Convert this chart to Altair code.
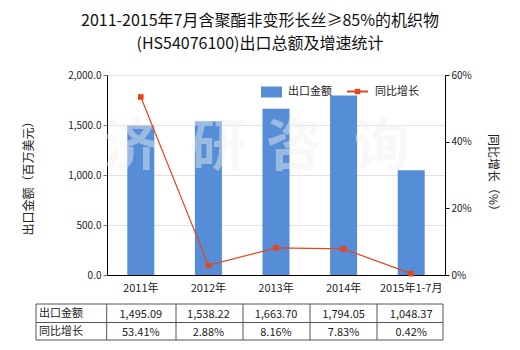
import altair as alt
import pandas as pd

years = ["2011年", "2012年", "2013年", "2014年", "2015年1-7月"]
amounts = [1495.09, 1538.22, 1663.70, 1794.05, 1048.37]
growth = [53.41, 2.88, 8.16, 7.83, 0.42]
amount_labels = ["1,495.09", "1,538.22", "1,663.70", "1,794.05", "1,048.37"]
growth_labels = ["53.41%", "2.88%", "8.16%", "7.83%", "0.42%"]

title_lines = ["2011-2015年7月含聚酯非变形长丝≥85%的机织物", "(HS54076100)出口总额及增速统计"]
watermark_chars = ["济", "研", "咨", "询"]

FONT = "Noto Sans CJK SC"
BLUE = "#558ed6"
RED = "#e2461c"

df = pd.DataFrame({
    "year": years,
    "amount": amounts,
    "growth": [g / 100 for g in growth],
    "amt_lbl": amount_labels,
    "gr_lbl": growth_labels,
})

W, H = 338, 200

xenc = alt.X("year:N", sort=years,
             scale=alt.Scale(paddingInner=0.6, paddingOuter=0.3),
             axis=alt.Axis(title=None, labelAngle=0, labelFont=FONT, labelFontSize=11,
                           labelColor="#222", ticks=False, domainColor="#000",
                           labelPadding=7))

bars = alt.Chart(df).mark_bar(color=BLUE).encode(
    x=xenc,
    y=alt.Y("amount:Q", scale=alt.Scale(domain=[0, 2000]),
            axis=alt.Axis(title="出口金额（百万美元）", format=",.1f", values=[0, 500, 1000, 1500, 2000],
                          labelFont=FONT, labelFontSize=10, labelColor="#222",
                          gridColor="#e2e2e2", domainColor="#000", tickColor="#777", tickSize=4,
                          titleFont=FONT, titleFontSize=12, titleFontWeight="normal", titleColor="#222",
                          titleAngle=-90, titleX=-79, titleY=100, titleAlign="center",
                          titleBaseline="middle")),
)

water = alt.Chart(pd.DataFrame({"t": watermark_chars, "px": [24, 111, 187, 275]})).mark_text(
    font=FONT, fontSize=56, fontWeight="bold", color="#f0f0f0", opacity=0.45,
    align="center", baseline="middle"
).encode(text="t:N", x=alt.X("px:Q", scale=None), y=alt.value(73))

line = alt.Chart(df).mark_line(color=RED, strokeWidth=1.2, point=alt.OverlayMarkDef(
    shape="square", size=32, color=RED, filled=True)).encode(
    x=alt.X("year:N", sort=years),
    y=alt.Y("growth:Q", scale=alt.Scale(domain=[0, 0.6]),
            axis=alt.Axis(title="同比增长（%）", format=".0%", values=[0, 0.2, 0.4, 0.6], orient="right",
                          grid=False, labelFont=FONT, labelFontSize=10, labelColor="#222",
                          domainColor="#000", tickColor="#000", tickSize=4,
                          titleFont=FONT, titleFontSize=12, titleFontWeight="normal", titleColor="#222",
                          titleAngle=90, titleX=47, titleY=100, titleAlign="center",
                          titleBaseline="middle")),
)

# table text
t_amt = alt.Chart(df).mark_text(font=FONT, fontSize=11, color="#222", baseline="middle").encode(
    x=alt.X("year:N", sort=years), y=alt.value(240), text="amt_lbl:N")
t_gr = alt.Chart(df).mark_text(font=FONT, fontSize=11, color="#222", baseline="middle").encode(
    x=alt.X("year:N", sort=years), y=alt.value(258), text="gr_lbl:N")

row_names = pd.DataFrame({"name": ["出口金额", "同比增长"], "py": [239, 257]})
t_rows = alt.Chart(row_names).mark_text(font=FONT, fontSize=11, color="#222", align="left",
                                        baseline="middle").encode(
    x=alt.value(-68), y=alt.Y("py:Q", scale=None), text="name:N")

# table grid (decoration)
grid_x = [-71, -0.3, 69, 136, 203, 270, 336]
grid_y = [229, 247.5, 265]
segs = []
for gx in grid_x:
    segs.append({"x": gx, "x2": gx, "y": grid_y[0], "y2": grid_y[-1]})
for gy in grid_y:
    segs.append({"x": grid_x[0], "x2": grid_x[-1], "y": gy, "y2": gy})
table_lines = alt.Chart(pd.DataFrame(segs)).mark_rule(color="#555", strokeWidth=1).encode(
    x=alt.X("x:Q", scale=None), x2="x2:Q", y=alt.Y("y:Q", scale=None), y2="y2:Q")

# legend (decoration)
leg_rect = alt.Chart(pd.DataFrame({"a": [0]})).mark_rect(color=BLUE).encode(
    x=alt.value(154), x2=alt.value(175), y=alt.value(11.5), y2=alt.value(22.5))
leg_line = alt.Chart(pd.DataFrame({"a": [0]})).mark_rule(color=RED, strokeWidth=2).encode(
    x=alt.value(240), x2=alt.value(261), y=alt.value(16.5))
leg_pt = alt.Chart(pd.DataFrame({"a": [0]})).mark_point(shape="square", size=30, color=RED,
                                                       filled=True, opacity=1).encode(
    x=alt.value(250.5), y=alt.value(16.5))
leg_text = alt.Chart(pd.DataFrame({"t": ["出口金额", "同比增长"], "px": [181, 268]})).mark_text(
    font=FONT, fontSize=11, color="#222", align="left", baseline="middle").encode(
    x=alt.X("px:Q", scale=None), y=alt.value(17), text="t:N")

title = alt.Chart(pd.DataFrame({"t": title_lines, "py": [-54, -31]})).mark_text(
    font=FONT, fontSize=16, color="#111", align="center", baseline="middle").encode(
    x=alt.value(153), y=alt.Y("py:Q", scale=None), text="t:N")

chart = alt.layer(
    bars, water, line, t_amt, t_gr, t_rows, table_lines, leg_rect, leg_line, leg_pt, leg_text, title
).resolve_scale(y="independent").properties(
    width=W, height=H,
    autosize=alt.AutoSizeParams(type="none"),
    padding={"left": 107, "top": 75, "right": 75, "bottom": 75},
).configure_view(stroke=None).configure(background="white")

chart.save("out.html", embed_options={"renderer": "svg", "actions": False})
